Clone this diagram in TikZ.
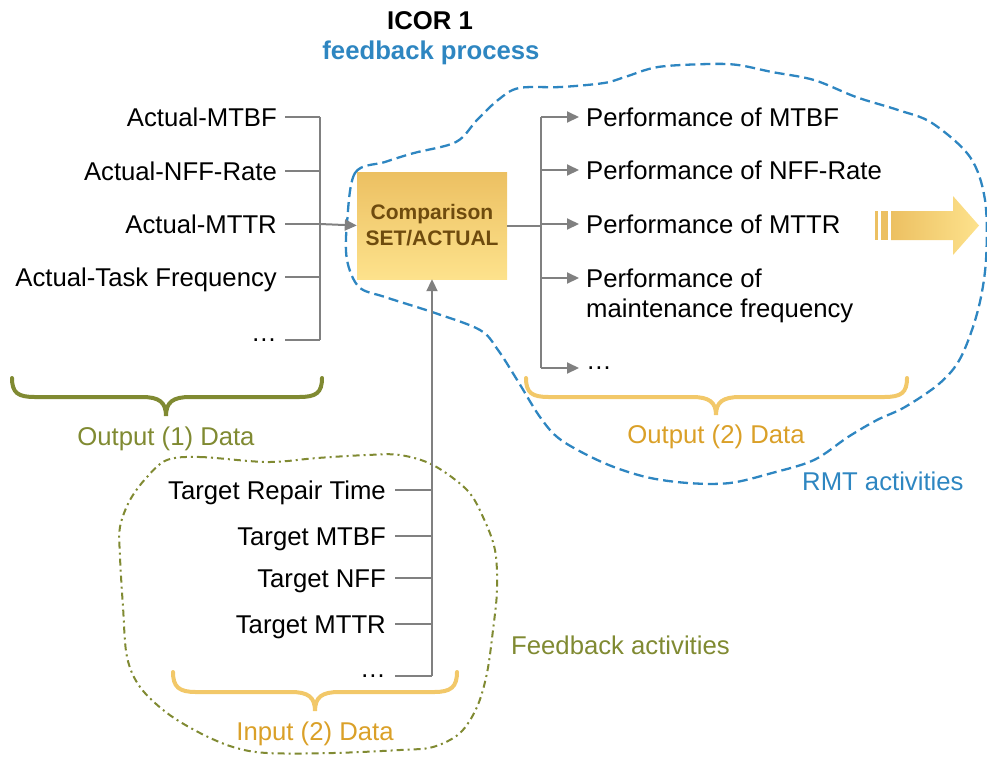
\documentclass[tikz,border=0pt]{standalone}
\usepackage{fontspec}
\setmainfont{Liberation Sans}
\usetikzlibrary{arrows.meta}
\definecolor{linegray}{RGB}{128,128,128}
\definecolor{rmtblue}{RGB}{46,134,193}
\definecolor{olivegreen}{RGB}{128,138,50}
\definecolor{goldtxt}{RGB}{218,160,40}
\definecolor{goldbrace}{RGB}{242,200,105}
\definecolor{boxtop}{RGB}{236,192,98}
\definecolor{boxbot}{RGB}{253,226,140}
\definecolor{boxtxt}{RGB}{110,75,14}
\tikzset{
  lbl/.style={inner sep=0pt, text height=18.5pt, text depth=0pt,
    font=\fontsize{25.7}{30}\selectfont},
  dots/.style={lbl, text height=2.6pt},
  gline/.style={draw=linegray, line width=2pt},
  garrow/.style={gline, -{Triangle[length=12pt,width=11pt]}},
  bracestyle/.style={line width=4pt, line cap=round},
}
\begin{document}
\begin{tikzpicture}[x=1pt,y=-1pt]
\useasboundingbox (0,0) rectangle (987,756);

% clouds
\draw[rmtblue, line width=2.3pt, dash pattern=on 10pt off 5pt]
  plot[smooth cycle, tension=0.55] coordinates {
  (347,223) (355,173) (385,162) (414,153) (456,142) (477,120) (498,100)
  (519,88) (561,87) (604,83) (625,77) (658,67) (709,64) (738,65) (772,72)
  (814,80) (856,97) (898,110) (932,123) (970,157) (985,200) (986,260)
  (978,310) (961,357) (940,383) (905,407) (877,420) (848,437) (814,460)
  (772,473) (730,483) (688,483) (646,477) (604,463) (561,440) (540,417)
  (519,383) (498,350) (480,330) (435,313) (385,297) (359,287) (347,260)};
\draw[olivegreen, line width=2pt, dash pattern=on 7pt off 4pt on 2pt off 4pt]
  plot[smooth cycle, tension=0.55] coordinates {
  (167,460) (200,457) (267,462) (317,458) (367,455) (400,455) (433,465)
  (467,490) (483,517) (495,550) (497,590) (493,630) (487,673) (477,707)
  (460,733) (433,747) (400,750) (333,753) (267,753) (233,747) (200,733)
  (167,713) (140,687) (127,657) (123,607) (120,557) (120,527) (130,500)
  (147,477)};

% titles
\node[lbl, font=\fontsize{25.7}{30}\selectfont\bfseries] (title) at (430,20) {ICOR 1};
\node[lbl, font=\fontsize{25.7}{30}\selectfont\bfseries, text=rmtblue] (subtitle) at (431,50) {feedback process};

% comparison box
\node[minimum width=150pt, minimum height=107pt, inner sep=0pt,
  top color=boxtop, bottom color=boxbot, draw=none,
  font=\fontsize{21}{26}\selectfont\bfseries, text=boxtxt, align=center]
  (cmp) at (432,225.5) {Comparison\\SET/ACTUAL};

% actual values
\node[lbl, anchor=east] (a1) at (277,117) {Actual-MTBF};
\node[lbl, anchor=east] (a2) at (277,171) {Actual-NFF-Rate};
\node[lbl, anchor=east] (a3) at (277,224) {Actual-MTTR};
\node[lbl, anchor=east] (a4) at (277,277) {Actual-Task Frequency};
\node[dots, anchor=east] (a5) at (277,340) {…};
\coordinate (busA) at (320,117);
\foreach \n in {a1,a2,a3,a4,a5}
  \draw[gline] ([xshift=8pt]\n.east) -- (\n.east -| busA);
\draw[gline] (a1.east -| busA) -- (a5.east -| busA);
\draw[garrow] (a3.east -| busA) -- (cmp.west);

% performance values
\node[lbl, anchor=west] (p1) at (586,117) {Performance of MTBF};
\node[lbl, anchor=west] (p2) at (586,170) {Performance of NFF-Rate};
\node[lbl, anchor=west] (p3) at (586,224) {Performance of MTTR};
\node[lbl, anchor=west] (p4) at (586,278) {Performance of};
\node[lbl, anchor=west] (p4b) at (586,308) {maintenance frequency};
\node[dots, anchor=west] (p5) at (586,368) {…};
\coordinate (busP) at (541,117);
\draw[gline] (cmp.east) -- (cmp.east -| busP);
\draw[gline] (p1.west -| busP) -- (p5.west -| busP);
\foreach \n in {p1,p2,p3,p4,p5}
  \draw[garrow] (\n.west -| busP) -- ([xshift=-7pt]\n.west);

% target values
\node[lbl, anchor=east] (t1) at (386,490) {Target Repair Time};
\node[lbl, anchor=east] (t2) at (386,536) {Target MTBF};
\node[lbl, anchor=east] (t3) at (386,578) {Target NFF};
\node[lbl, anchor=east] (t4) at (386,624) {Target MTTR};
\node[dots, anchor=east] (t5) at (386,676) {…};
\coordinate (busT) at (432,490);
\foreach \n in {t1,t2,t3,t4,t5}
  \draw[gline] ([xshift=9pt]\n.east) -- (\n.east -| busT);
\draw[garrow] (t5.east -| busT) -- (cmp.south);

% braces
\draw[bracestyle, olivegreen] (12,378) .. controls (12,393) and (18,397) .. (35,397)
  -- (142,397) .. controls (159,397) and (166,402) .. (166,416)
  .. controls (166,402) and (173,397) .. (190,397) -- (299,397)
  .. controls (316,397) and (322,393) .. (322,378);
\draw[bracestyle, goldbrace] (526,378) .. controls (526,393) and (532,397) .. (549,397)
  -- (692,397) .. controls (709,397) and (716,402) .. (716,415)
  .. controls (716,402) and (723,397) .. (740,397) -- (884,397)
  .. controls (901,397) and (907,393) .. (907,378);
\draw[bracestyle, goldbrace] (173,672) .. controls (173,687) and (179,692) .. (196,692)
  -- (291,692) .. controls (308,692) and (315,697) .. (315,711)
  .. controls (315,697) and (322,692) .. (339,692) -- (434,692)
  .. controls (451,692) and (457,687) .. (457,672);

\node[lbl, text=olivegreen] (out1) at (166,436) {Output (1) Data};
\node[lbl, text=goldtxt] (out2) at (716,434) {Output (2) Data};
\node[lbl, text=goldtxt] (in2) at (315,731) {Input (2) Data};
\node[lbl, text=rmtblue, anchor=west] (rmt) at (802,481) {RMT activities};
\node[lbl, text=olivegreen, anchor=west] (fb) at (511,645) {Feedback activities};

% outgoing broad arrow
\fill[boxtop] (875,211) rectangle (878,240);
\fill[boxtop] (881,211) rectangle (888,240);
\shade[left color=boxtop, right color=boxbot]
  (891,211) -- (953,211) -- (953,196) -- (979,225.5) -- (953,255) -- (953,240)
  -- (891,240) -- cycle;
\end{tikzpicture}
\end{document}
